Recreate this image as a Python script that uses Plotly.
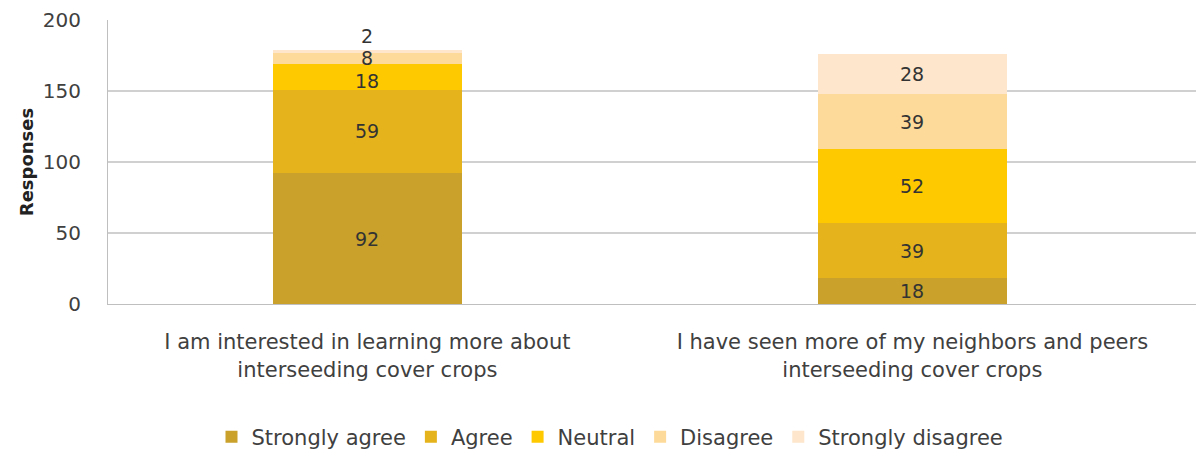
import plotly.graph_objects as go
import numpy as np

categories = ["I am interested in learning more about<br>interseeding cover crops",
              "I have seen more of my neighbors and peers<br>interseeding cover crops"]
series_names = ["Strongly agree", "Agree", "Neutral", "Disagree", "Strongly disagree"]
strongly_agree = [92, 18]
agree = [59, 39]
neutral = [18, 52]
disagree = [8, 39]
strongly_disagree = [2, 28]
colors = ["#C9A12B", "#E5B31C", "#FFC900", "#FEDA9A", "#FDE6CB"]
y_ticks = [0, 50, 100, 150, 200]

series = [strongly_agree, agree, neutral, disagree, strongly_disagree]
xpos = [0, 1]
FONT = "DejaVu Sans"

fig = go.Figure()
for name, vals, col in zip(series_names, series, colors):
    fig.add_trace(go.Bar(x=xpos, y=vals, name=name, marker=dict(color=col, line=dict(width=0)),
                         width=0.347))

cum = np.zeros(len(xpos))
annotations = []
for vals in series:
    v = np.array(vals, dtype=float)
    centers = cum + v / 2
    for i, (c, val) in enumerate(zip(centers, v)):
        # small segments: labels nudged apart like the original
        if val < 5:
            shift = 15
        elif val < 10:
            shift = 0
        elif val < 20 and cum[i] > 100:
            shift = -4
        else:
            shift = 0
        annotations.append(dict(x=xpos[i], y=c, text=str(int(val)), showarrow=False,
                                yshift=shift, font=dict(family=FONT, size=19, color="#333333")))
    cum += v

fig.update_layout(
    barmode="stack",
    width=1204, height=449,
    margin=dict(l=100, r=13, t=12, b=153, autoexpand=False),
    paper_bgcolor="white", plot_bgcolor="white",
    font=dict(family=FONT, size=19, color="#404040"),
    annotations=annotations,
    bargap=0,
    legend=dict(orientation="h", xref="container", x=0.5, xanchor="center",
                yref="container", y=0.0445, yanchor="middle",
                font=dict(family=FONT, size=21, color="#404040"), itemwidth=30,
                traceorder="normal"),
    showlegend=True,
)
fig.update_xaxes(tickmode="array", tickvals=xpos, ticktext=categories,
                 range=[-0.476, 1.526], showgrid=False, showline=True, linecolor="#BFBFBF",
                 linewidth=1, ticks="outside", ticklen=19, tickcolor="rgba(0,0,0,0)",
                 tickfont=dict(family=FONT, size=21, color="#404040"), zeroline=False,
                 automargin=False)
fig.update_yaxes(range=[0, 200], tickvals=y_ticks, showgrid=True, gridcolor="#D0D0D0",
                 gridwidth=1.5, showline=True, linecolor="#BFBFBF", linewidth=1,
                 ticks="outside", ticklen=22, tickcolor="rgba(0,0,0,0)",
                 ticklabeloverflow="allow", automargin=False,
                 tickfont=dict(family=FONT, size=20, color="#404040"), zeroline=False,
                 title=dict(text="<b>Responses</b>", font=dict(family=FONT, size=18, color="#222222"),
                            standoff=4))

fig.write_html("out.html")
